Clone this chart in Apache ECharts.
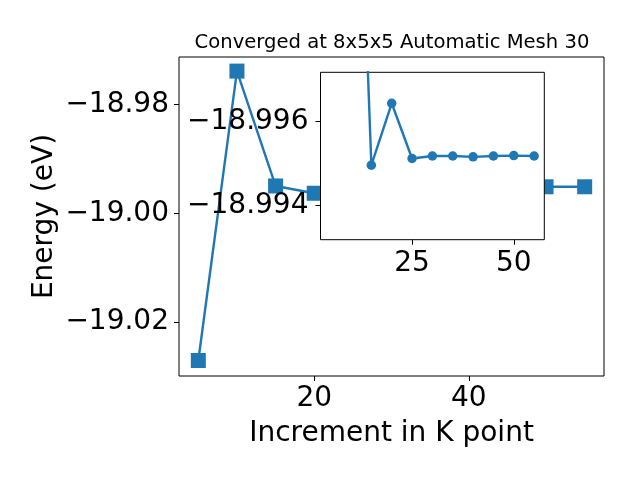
<!DOCTYPE html>
<html>
<head>
<meta charset="utf-8">
<script src="https://cdn.jsdelivr.net/npm/echarts@6/dist/echarts.min.js"></script>
<style>html,body{margin:0;padding:0;background:#fff}#c{width:640px;height:480px}</style>
</head>
<body>
<div id="c"></div>
<script>
const titleText = 'Converged at 8x5x5 Automatic Mesh 30';
const xName = 'Increment in K point';
const yName = 'Energy (eV)';
const kPoints = [5, 10, 15, 20, 25, 30, 35, 40, 45, 50, 55];
const energy = [-19.02705, -18.97389, -18.99499, -18.99633, -18.99512, -18.99518, -18.99518, -18.99516, -18.99518, -18.99514, -18.99514];
const insetEnergy = [-19.02705, -19.008, -18.99496, -18.99644, -18.99512, -18.99518, -18.99518, -18.99516, -18.99518, -18.99519, -18.99518];
const mainXTicks = [20, 40];
const mainYTicks = [-19.02, -19.00, -18.98];
const insetXTicks = [25, 50];
const insetYTicks = [-18.996, -18.994];

const FONT = 'DejaVu Sans';
const fmt = d => v => (v < 0 ? '\u2212' : '') + Math.abs(v).toFixed(d);

const chart = echarts.init(document.getElementById('c'), null, {renderer: 'canvas'});
const axisCommon = {
  splitLine: {show: false},
  axisLine: {show: false},
  axisTick: {show: true, inside: false, length: 5, lineStyle: {color: '#000', width: 1}},
};
chart.setOption({
  animation: false,
  backgroundColor: '#fff',
  title: {
    text: titleText, left: 387, top: 28, textAlign: 'center',
    textStyle: {fontFamily: FONT, fontSize: 19.6, fontWeight: 'normal', color: '#000'}
  },
  grid: [
    {left: 179, top: 57, width: 425, height: 319, show: true, backgroundColor: '#fff', borderColor: '#000', borderWidth: 1, outerBoundsMode: 'none', z: 0},
    {left: 320.5, top: 72.3, width: 223.8, height: 167.4, show: true, backgroundColor: '#fff', borderColor: '#000', borderWidth: 1, outerBoundsMode: 'none', z: 5}
  ],
  xAxis: [
    Object.assign({}, axisCommon, {
      type: 'value', gridIndex: 0, min: 2.5, max: 57.5,
      axisTick: Object.assign({}, axisCommon.axisTick, {customValues: mainXTicks}),
      axisLabel: {customValues: mainXTicks, fontFamily: FONT, fontSize: 28, color: '#000', margin: 9, formatter: v => String(v)},
      name: xName, nameLocation: 'middle', nameGap: 44, nameMoveOverlap: false,
      nameTextStyle: {fontFamily: FONT, fontSize: 28, color: '#000'}
    }),
    Object.assign({}, axisCommon, {
      type: 'value', gridIndex: 1, min: 2.5, max: 57.5, z: 6,
      axisTick: Object.assign({}, axisCommon.axisTick, {customValues: insetXTicks}),
      axisLabel: {customValues: insetXTicks, fontFamily: FONT, fontSize: 28, color: '#000', margin: 10, formatter: v => String(v)}
    })
  ],
  yAxis: [
    Object.assign({}, axisCommon, {
      type: 'value', gridIndex: 0, min: -19.0299, max: -18.9713,
      axisTick: Object.assign({}, axisCommon.axisTick, {customValues: mainYTicks}),
      axisLabel: {customValues: mainYTicks, fontFamily: FONT, fontSize: 28, color: '#000', margin: 10, formatter: fmt(2)},
      name: yName, nameLocation: 'middle', nameGap: 120, nameRotate: 90, nameMoveOverlap: false,
      nameTextStyle: {fontFamily: FONT, fontSize: 28, color: '#000'}
    }),
    Object.assign({}, axisCommon, {
      type: 'value', gridIndex: 1, inverse: true, min: -18.99718, max: -18.99318, z: 6,
      axisTick: Object.assign({}, axisCommon.axisTick, {customValues: insetYTicks}),
      axisLabel: {customValues: insetYTicks, fontFamily: FONT, fontSize: 28, color: '#000', margin: 12, formatter: fmt(3)}
    })
  ],
  series: [
    {
      type: 'line', xAxisIndex: 0, yAxisIndex: 0, z: 2,
      data: kPoints.map((k, i) => [k, energy[i]]),
      symbol: 'rect', symbolSize: 15, showAllSymbol: true,
      lineStyle: {color: '#1f77b4', width: 2.4},
      itemStyle: {color: '#1f77b4'},
      clip: true
    },
    {
      type: 'line', xAxisIndex: 1, yAxisIndex: 1, z: 7,
      data: kPoints.map((k, i) => [k, insetEnergy[i]]),
      symbol: 'circle', symbolSize: 9.5, showAllSymbol: true,
      lineStyle: {color: '#1f77b4', width: 2.4},
      itemStyle: {color: '#1f77b4'},
      clip: true
    }
  ]
});
</script>
</body>
</html>
